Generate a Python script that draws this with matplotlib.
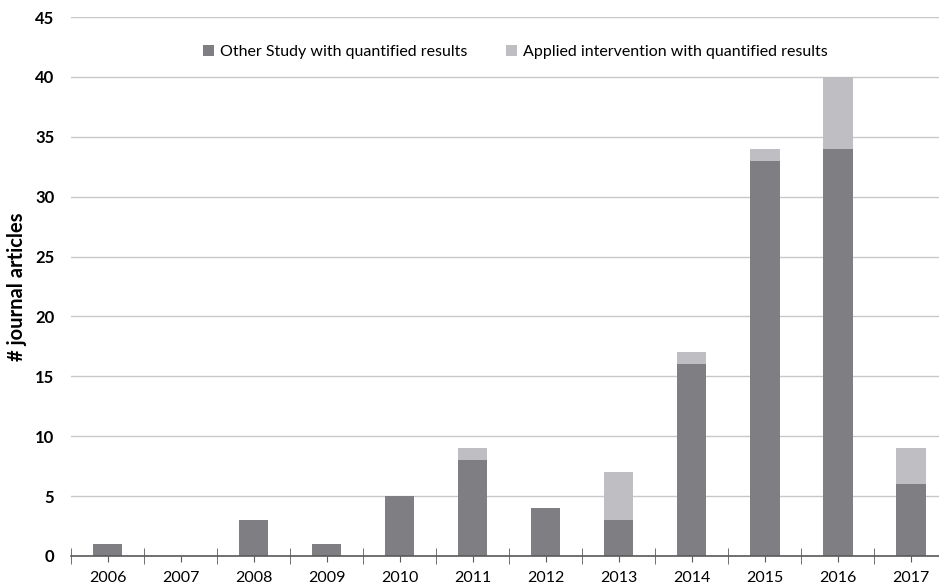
import numpy as np
import matplotlib
matplotlib.use("Agg")
import matplotlib.pyplot as plt
from matplotlib.ticker import MultipleLocator, FixedLocator

plt.rcParams['font.family'] = ['Lato', 'DejaVu Sans']

years = ["2006", "2007", "2008", "2009", "2010", "2011",
         "2012", "2013", "2014", "2015", "2016", "2017"]
other = [1, 0, 3, 1, 5, 8, 4, 3, 16, 33, 34, 6]
applied = [0, 0, 0, 0, 0, 1, 0, 4, 1, 1, 6, 3]

dark = "#7f7f83"
light = "#bfbfc3"

fig = plt.figure(figsize=(9.39, 5.85), dpi=100)
ax = fig.add_axes([71 / 939, 29 / 585, 876.5 / 939, 539 / 585])

x = np.arange(len(years))
ax.bar(x, other, width=0.4, color=dark, label="Other Study with quantified results", zorder=2)
ax.bar(x, applied, width=0.4, bottom=other, color=light,
       label="Applied intervention with quantified results", zorder=2)

ax.set_xlim(-0.5, len(years) - 0.5)
ax.set_ylim(0, 45)
ax.yaxis.set_major_locator(MultipleLocator(5))
ax.grid(axis="y", color="#c8c8c8", linewidth=1, zorder=0)
ax.set_axisbelow(True)

for s in ["top", "right", "left"]:
    ax.spines[s].set_visible(False)
ax.spines["bottom"].set_color("#595959")
ax.spines["bottom"].set_linewidth(1.2)
ax.spines["bottom"].set_zorder(3)

ax.set_xticks(x)
ax.set_xticklabels(years, fontsize=11.5)
ax.xaxis.set_minor_locator(FixedLocator(np.arange(-0.5, len(years), 1)))
ax.tick_params(axis="x", which="major", direction="out", length=4, color="#595959", pad=7)
ax.tick_params(axis="x", which="minor", direction="inout", length=11, color="#595959")
ax.tick_params(axis="y", length=0, pad=12)
for lab in ax.get_yticklabels():
    lab.set_fontweight("bold")
    lab.set_fontsize(12)

ax.set_ylabel("# journal articles", fontsize=14.5, fontweight="bold", labelpad=6)

ax.legend(loc="upper center", bbox_to_anchor=(0.507, 0.975), ncol=2, frameon=False,
          fontsize=11.5, handlelength=0.7, handleheight=0.7, handletextpad=0.4,
          columnspacing=2.4)

fig.savefig("out.png", dpi=100)
plt.close(fig)
